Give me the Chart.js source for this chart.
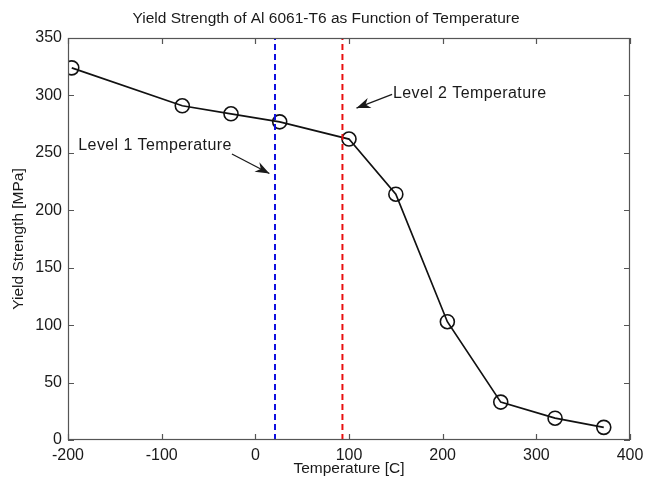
<!DOCTYPE html>
<html>
<head>
<meta charset="utf-8">
<script src="https://cdn.jsdelivr.net/npm/chart.js@4.4.1/dist/chart.umd.min.js"></script>
<style>
  html, body { margin: 0; padding: 0; background: #fff; }
  #wrap { width: 646px; height: 484px; }
</style>
</head>
<body>
<div id="wrap"><canvas id="chart" width="646" height="484"></canvas></div>
<script>
// temperature [C] and yield strength [MPa]
const temps = [-196, -78, -26, 26, 100, 150, 205, 262, 320, 372];
const strength = [324, 291, 284, 277, 262, 214, 103, 33, 19, 11];

const level1Temp = 21;
const level2Temp = 93;

const xTicks = [-200, -100, 0, 100, 200, 300, 400];
const yTicks = [0, 50, 100, 150, 200, 250, 300, 350];

const chartTitle = "Yield Strength of Al 6061-T6 as Function of Temperature";

// text labels with arrows, in data coordinates
const notes = [
    { text: "Level 1 Temperature", x: -189, y: 256, from: [-25, 249], to: [15, 232] },
    { text: "Level 2 Temperature", x: 147, y: 302, from: [146, 301], to: [108, 289] }
];

const font = "'Liberation Sans', Arial, sans-serif";
const ink = "#1a1a1a";

const framePlugin = {
    id: "frame",
    afterDraw(chart) {
        const ctx = chart.ctx;
        const a = chart.chartArea;
        const xs = chart.scales.x, ys = chart.scales.y;
        ctx.save();
        ctx.strokeStyle = "#555";
        ctx.lineWidth = 1.2;
        ctx.strokeRect(a.left + 0.5, a.top + 0.5, a.right - a.left - 1, a.bottom - a.top - 1);
        ctx.beginPath();
        xTicks.forEach(v => {
            const px = Math.round(xs.getPixelForValue(v)) + 0.5;
            ctx.moveTo(px, a.bottom); ctx.lineTo(px, a.bottom - 6);
            ctx.moveTo(px, a.top); ctx.lineTo(px, a.top + 6);
        });
        yTicks.forEach(v => {
            const py = Math.round(ys.getPixelForValue(v)) + 0.5;
            ctx.moveTo(a.left, py); ctx.lineTo(a.left + 6, py);
            ctx.moveTo(a.right, py); ctx.lineTo(a.right - 6, py);
        });
        ctx.stroke();

        // title, a bit right of the canvas centre as in the original
        ctx.fillStyle = ink;
        ctx.font = "15.5px " + font;
        ctx.textAlign = "center";
        ctx.textBaseline = "middle";
        ctx.fillText(chartTitle, 326, 19);

        // annotations
        ctx.strokeStyle = ink;
        ctx.font = "16px " + font;
        ctx.letterSpacing = "0.4px";
        ctx.textAlign = "left";
        notes.forEach(n => {
            ctx.fillText(n.text, xs.getPixelForValue(n.x), ys.getPixelForValue(n.y));
            const x1 = xs.getPixelForValue(n.from[0]), y1 = ys.getPixelForValue(n.from[1]);
            const x2 = xs.getPixelForValue(n.to[0]), y2 = ys.getPixelForValue(n.to[1]);
            ctx.lineWidth = 1.3;
            ctx.beginPath();
            ctx.moveTo(x1, y1); ctx.lineTo(x2, y2);
            ctx.stroke();
            const ang = Math.atan2(y2 - y1, x2 - x1);
            const L = 15, W = 0.36;
            ctx.beginPath();
            ctx.moveTo(x2, y2);
            ctx.lineTo(x2 - L * Math.cos(ang - W), y2 - L * Math.sin(ang - W));
            ctx.lineTo(x2 - L * 0.65 * Math.cos(ang), y2 - L * 0.65 * Math.sin(ang));
            ctx.lineTo(x2 - L * Math.cos(ang + W), y2 - L * Math.sin(ang + W));
            ctx.closePath();
            ctx.fill();
        });
        ctx.restore();
    }
};

new Chart(document.getElementById("chart"), {
    type: "scatter",
    data: {
        datasets: [
            {
                label: "Yield strength",
                data: temps.map((t, i) => ({ x: t, y: strength[i] })),
                showLine: true,
                borderColor: "#111",
                borderWidth: 1.7,
                pointRadius: 7,
                pointBorderWidth: 1.6,
                pointBorderColor: "#111",
                pointBackgroundColor: "rgba(0,0,0,0)",
                order: 2
            },
            {
                label: "Level 1",
                data: [{ x: level1Temp, y: 0 }, { x: level1Temp, y: 350 }],
                showLine: true,
                borderColor: "#1010e0",
                borderWidth: 2,
                borderDash: [6, 4],
                pointRadius: 0,
                order: 1
            },
            {
                label: "Level 2",
                data: [{ x: level2Temp, y: 0 }, { x: level2Temp, y: 350 }],
                showLine: true,
                borderColor: "#e81010",
                borderWidth: 2,
                borderDash: [6, 4],
                pointRadius: 0,
                order: 1
            }
        ]
    },
    options: {
        responsive: false,
        animation: false,
        layout: { padding: { top: 38, right: 16, left: 0, bottom: 0 } },
        plugins: {
            legend: { display: false },
            tooltip: { enabled: false },
            title: { display: false }
        },
        scales: {
            x: {
                type: "linear",
                min: -200, max: 400,
                afterBuildTicks: s => { s.ticks = xTicks.map(v => ({ value: v })); },
                afterFit: s => { s.height = 44; s.paddingLeft = 0; s.paddingRight = 0; },
                grid: { display: false, drawTicks: false, tickLength: 0 },
                border: { display: false },
                ticks: { color: ink, font: { family: font, size: 16 }, padding: 6, maxRotation: 0 },
                title: {
                    display: true, text: "Temperature [C]", color: ink,
                    font: { family: font, size: 15.5 }, padding: { top: 0, bottom: 6 }
                }
            },
            y: {
                type: "linear",
                min: 0, max: 350,
                afterBuildTicks: s => { s.ticks = yTicks.map(v => ({ value: v })); },
                afterFit: s => { s.width = 68; s.paddingTop = 0; s.paddingBottom = 0; },
                grid: { display: false, drawTicks: false, tickLength: 0 },
                border: { display: false },
                ticks: { color: ink, font: { family: font, size: 16 }, padding: 6 },
                title: {
                    display: true, text: "Yield Strength [MPa]", color: ink,
                    font: { family: font, size: 15.5 }, padding: { top: 9, bottom: 0 }
                }
            }
        }
    },
    plugins: [framePlugin]
});
</script>
</body>
</html>
